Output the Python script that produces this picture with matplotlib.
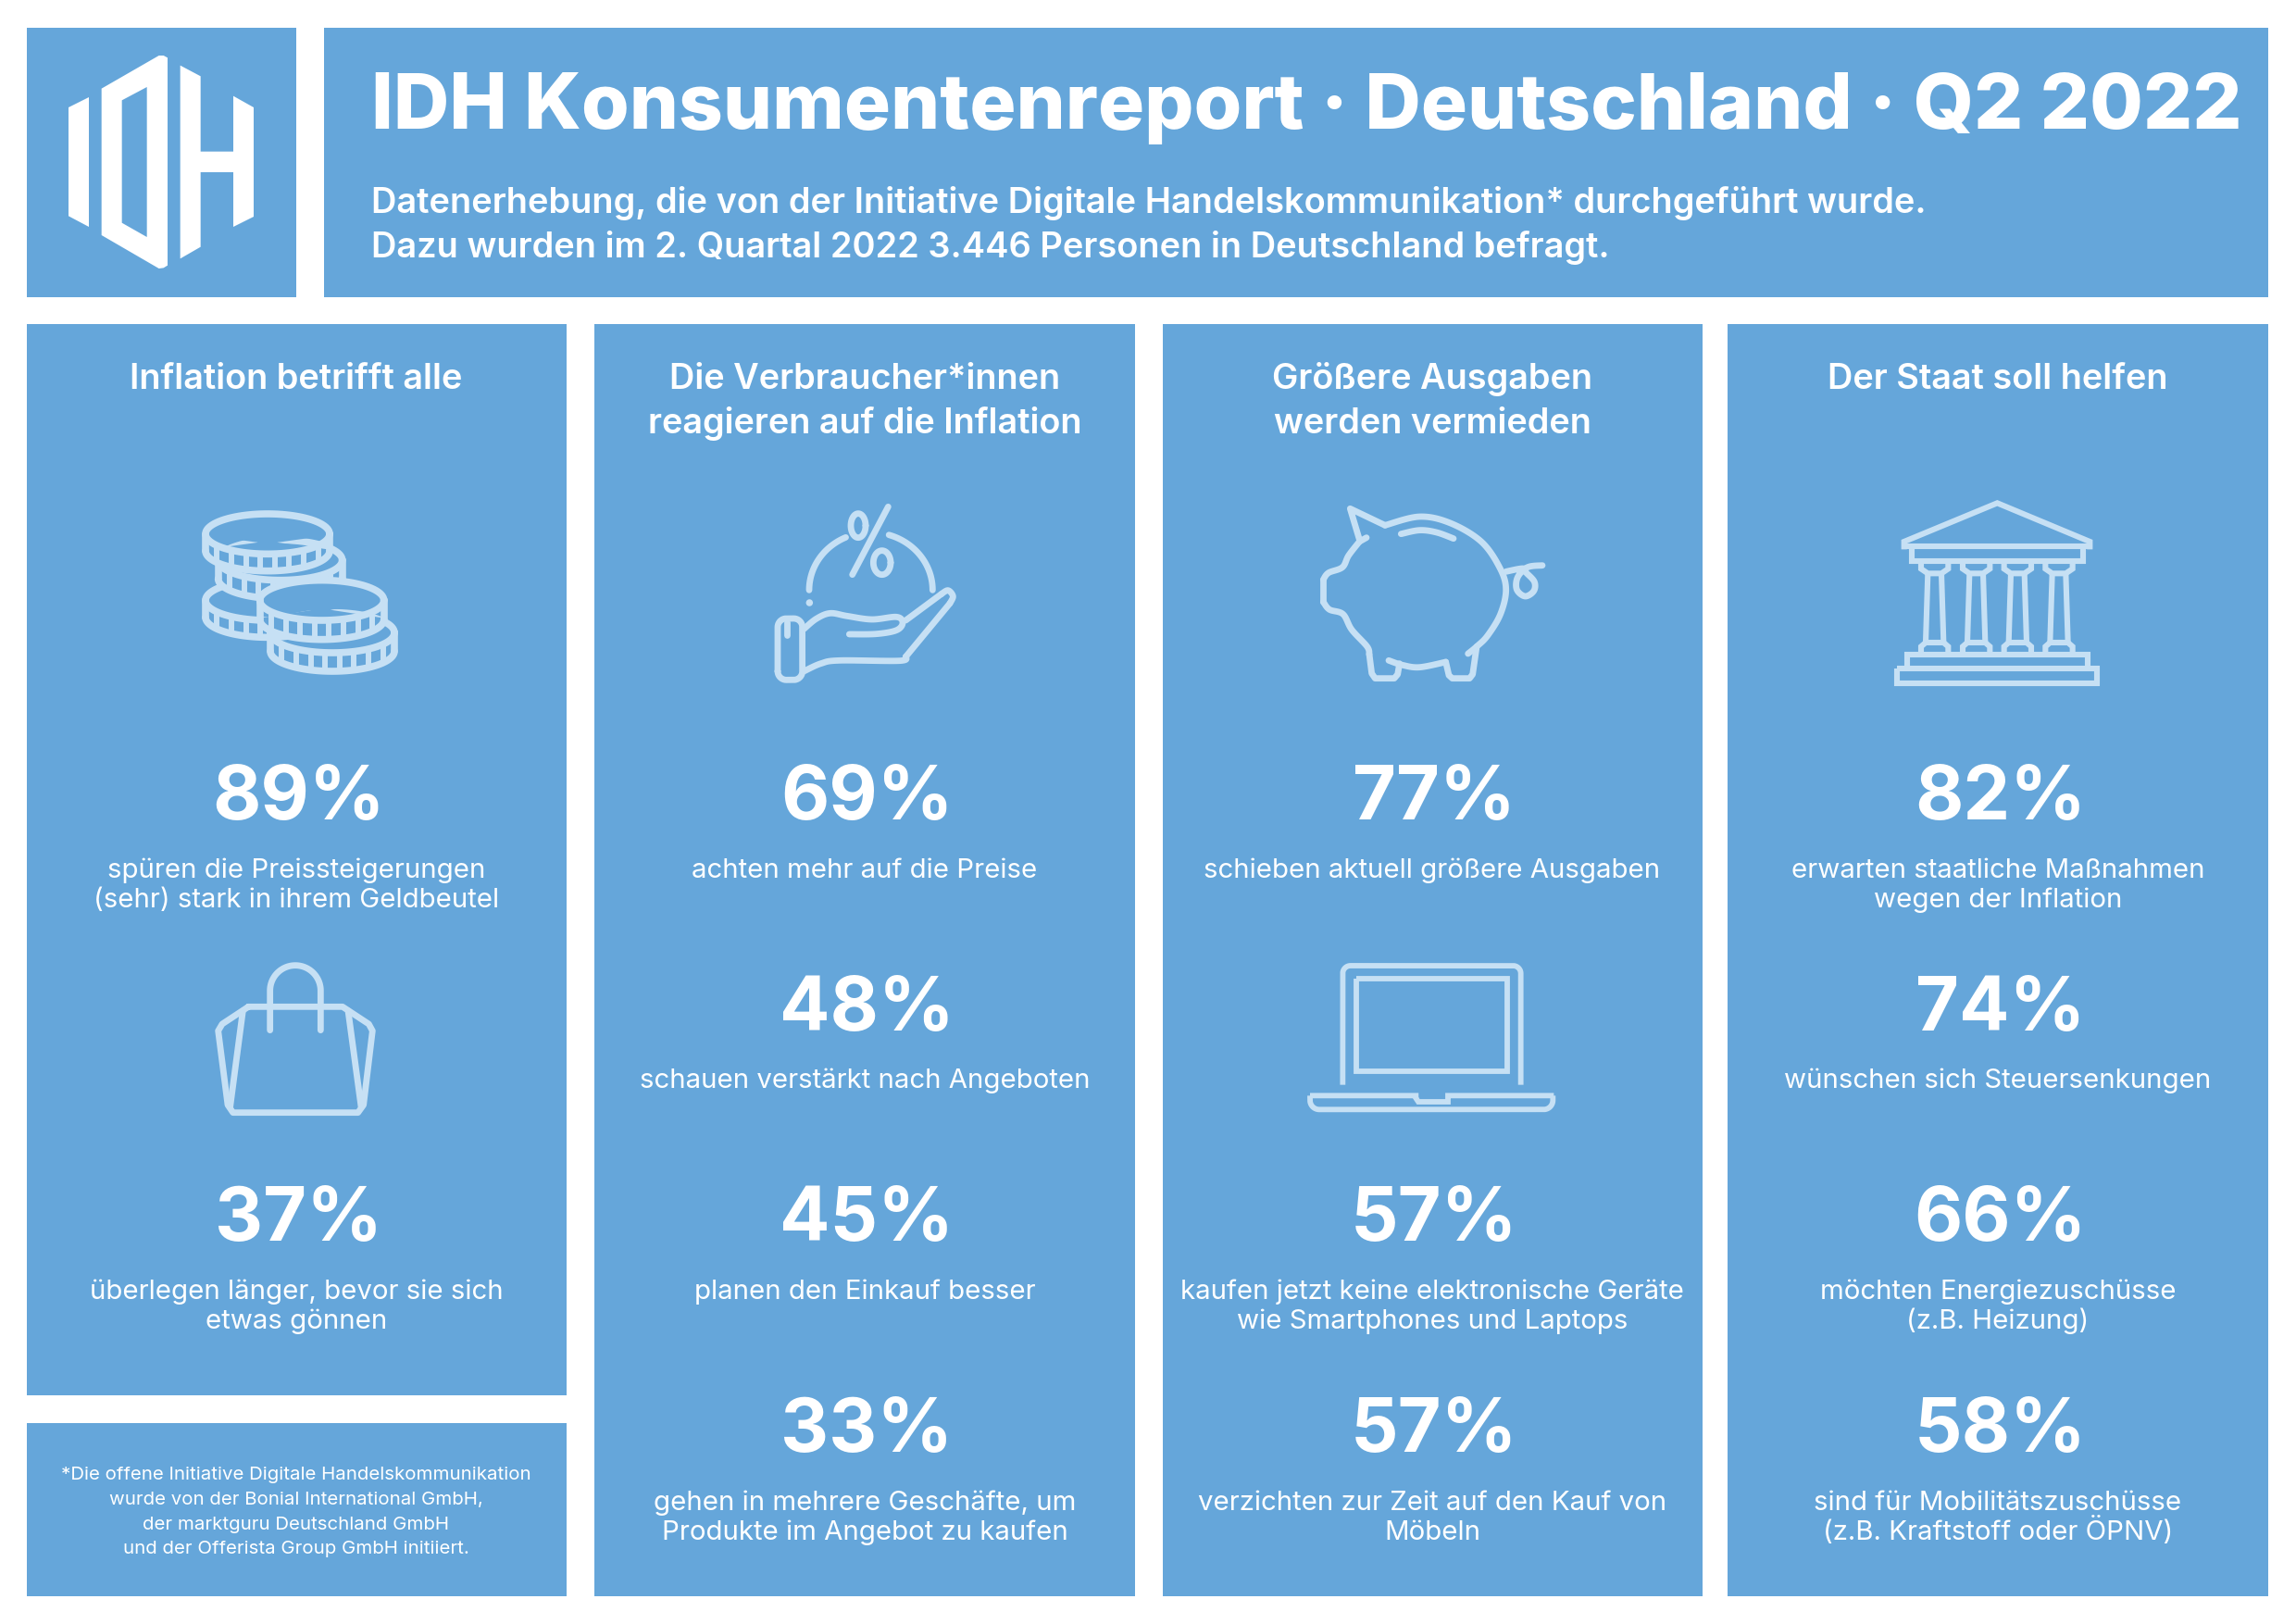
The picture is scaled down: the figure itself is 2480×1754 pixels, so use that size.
import numpy as np
import matplotlib
matplotlib.use('Agg')
import matplotlib.pyplot as plt
from matplotlib.patches import Rectangle, Polygon, Ellipse

plt.rcParams['font.family'] = ['Inter', 'DejaVu Sans']

# colours
BLUE = '#65a6da'
ICON = '#c6e0f4'

# texts
title = 'IDH Konsumentenreport · Deutschland · Q2 2022'
subtitle = ['Datenerhebung, die von der Initiative Digitale Handelskommunikation* durchgeführt wurde.',
            'Dazu wurden im 2. Quartal 2022 3.446 Personen in Deutschland befragt.']
footnote = ['*Die offene Initiative Digitale Handelskommunikation',
            'wurde von der Bonial International GmbH,',
            'der marktguru Deutschland GmbH',
            'und der Offerista Group GmbH initiiert.']

heads = [['Inflation betrifft alle'],
         ['Die Verbraucher*innen', 'reagieren auf die Inflation'],
         ['Größere Ausgaben', 'werden vermieden'],
         ['Der Staat soll helfen']]

col1_values = [89, 37]
col1_labels = [['spüren die Preissteigerungen', '(sehr) stark in ihrem Geldbeutel'],
               ['überlegen länger, bevor sie sich', 'etwas gönnen']]
col2_values = [69, 48, 45, 33]
col2_labels = [['achten mehr auf die Preise'],
               ['schauen verstärkt nach Angeboten'],
               ['planen den Einkauf besser'],
               ['gehen in mehrere Geschäfte, um', 'Produkte im Angebot zu kaufen']]
col3_values = [77, 57, 57]
col3_labels = [['schieben aktuell größere Ausgaben'],
               ['kaufen jetzt keine elektronische Geräte', 'wie Smartphones und Laptops'],
               ['verzichten zur Zeit auf den Kauf von', 'Möbeln']]
col4_values = [82, 74, 66, 58]
col4_labels = [['erwarten staatliche Maßnahmen', 'wegen der Inflation'],
               ['wünschen sich Steuersenkungen'],
               ['möchten Energiezuschüsse', '(z.B. Heizung)'],
               ['sind für Mobilitätszuschüsse', '(z.B. Kraftstoff oder ÖPNV)']]

fig = plt.figure(figsize=(24.8, 17.54), dpi=100, facecolor='white')
ax = fig.add_axes([0, 0, 1, 1])
ax.set_xlim(0, 2480)
ax.set_ylim(1754, 0)
ax.axis('off')


def box(x0, y0, x1, y1):
    ax.add_patch(Rectangle((x0, y0), x1 - x0, y1 - y0, fc=BLUE, ec='none', zorder=1))


def smooth(pts, n=14):
    # catmull-rom through the given points, only for the icon outlines
    p = np.array(pts, dtype=float)
    p = np.vstack([p[0], p, p[-1]])
    out = []
    for i in range(1, len(p) - 2):
        for t in np.linspace(0, 1, n, endpoint=False):
            out.append(0.5 * (2 * p[i] + (p[i + 1] - p[i - 1]) * t
                              + (2 * p[i - 1] - 5 * p[i] + 4 * p[i + 1] - p[i + 2]) * t ** 2
                              + (3 * p[i] - p[i - 1] - 3 * p[i + 1] + p[i + 2]) * t ** 3))
    out.append(p[-2])
    return np.array(out)


def stroke(pts, ox, oy, lw=4.9, z=3, cap='round', join='round'):
    # pts are in 3x crop units, relative to the icon origin
    a = np.asarray(pts, dtype=float) / 3.0 + [ox, oy]
    ax.plot(a[:, 0], a[:, 1], color=ICON, lw=lw, zorder=z, solid_capstyle=cap, solid_joinstyle=join)


def ell(cx, cy, rx, ry, a0=0, a1=360):
    t = np.radians(np.linspace(a0, a1, 90))
    return np.column_stack([cx + rx * np.cos(t), cy + ry * np.sin(t)])


# panels
box(29, 30, 320, 321)
box(350, 30, 2450, 321)
box(29, 350, 612, 1507)
box(29, 1537, 612, 1724)
box(642, 350, 1226, 1724)
box(1256, 350, 1839, 1724)
box(1866, 350, 2450, 1724)

# logo
for poly in ([(222, 348), (288, 315), (288, 735), (222, 700)],
             [(329, 287), (515, 180), (530, 180), (543, 187), (543, 860), (530, 868), (515, 870), (329, 762)],
             [(584, 212), (650, 247), (650, 491), (756, 491), (756, 311), (822, 348), (822, 702),
              (756, 735), (756, 558), (650, 558), (650, 800), (584, 838)]):
    ax.add_patch(Polygon(np.array(poly) / 3.0, fc='white', ec='none', zorder=2))
ax.add_patch(Polygon(np.array([(395, 325), (476, 282), (476, 768), (395, 722)]) / 3.0, fc=BLUE, ec='none', zorder=3))


def coin(cx, cy, drop, ox, oy, z):
    rx, ry = 201, 65
    lw = 5.5
    top = ell(cx, cy, rx, ry)
    front = ell(cx, cy + drop, rx, ry, 180, 0)
    # mask whatever lies behind the coin
    shape = np.vstack([ell(cx, cy, rx, ry, 180, 360), front]) / 3.0 + [ox, oy]
    ax.add_patch(Polygon(shape, fc=BLUE, ec=BLUE, lw=2, zorder=z))
    stroke(top, ox, oy, lw=lw, z=z + 0.1)
    stroke(front, ox, oy, lw=lw, z=z + 0.1)
    stroke([(cx - rx, cy), (cx - rx, cy + drop)], ox, oy, lw=lw, z=z + 0.1)
    stroke([(cx + rx, cy), (cx + rx, cy + drop)], ox, oy, lw=lw, z=z + 0.1)
    for dx in (-164, -117, -70, -23, 23, 70, 117, 164):
        y = ry * np.sqrt(1 - (dx / rx) ** 2)
        stroke([(cx + dx, cy + y), (cx + dx, cy + drop + y)], ox, oy, lw=4.3, z=z + 0.1, cap='butt')


def icon_coins(ox, oy):
    coin(327, 385, 55, ox, oy, 3)
    coin(368, 255, 60, ox, oy, 4)
    coin(327, 170, 55, ox, oy, 5)
    coin(537, 490, 60, ox, oy, 6)
    coin(503, 385, 62, ox, oy, 7)


def icon_hand(ox, oy):
    stroke(ell(422, 352, 200, 187, 180, 246), ox, oy)
    stroke(ell(422, 352, 200, 187, 287, 360), ox, oy)
    ax.add_patch(Ellipse((ox + 223 / 3, oy + 393 / 3), 7.5, 7.5, fc=ICON, ec='none', zorder=3))
    stroke([(478, 82), (362, 302)], ox, oy)
    stroke(ell(381, 143, 24, 39), ox, oy)
    stroke(ell(458, 263, 28, 39), ox, oy)
    stroke(np.vstack([[(120, 615)], ell(148, 615, 28, 28, 180, 90)[::1], ell(172, 615, 28, 28, 90, 0),
                      ell(172, 472, 28, 28, 0, -90), ell(148, 472, 28, 28, 270, 180), [(120, 615)]]), ox, oy)
    stroke([(149, 455), (149, 497)], ox, oy)
    stroke(smooth([(205, 478), (245, 445), (290, 427), (345, 436), (425, 447), (505, 439), (525, 458),
                   (505, 482), (440, 494), (352, 495)]), ox, oy)
    stroke([(535, 450), (650, 365)], ox, oy)
    stroke(smooth([(650, 365), (672, 353), (688, 372), (678, 395)]), ox, oy)
    stroke([(678, 395), (535, 568)], ox, oy)
    stroke(smooth([(535, 568), (515, 581), (320, 580), (260, 590), (205, 615)]), ox, oy)


def icon_pig(ox, oy):
    stroke([(205, 188), (175, 88), (288, 142)], ox, oy)
    stroke(smooth([(288, 142), (400, 114), (500, 135), (600, 195), (660, 280), (680, 350),
                   (662, 430), (620, 500), (585, 535), (557, 558)]), ox, oy)
    stroke([(228, 182), (205, 195)], ox, oy)
    stroke(smooth([(205, 195), (170, 240), (150, 278), (105, 296), (88, 318)]), ox, oy)
    stroke([(88, 318), (88, 390)], ox, oy)
    stroke(smooth([(88, 390), (108, 415), (152, 430), (180, 480), (230, 535), (237, 560)]), ox, oy)
    stroke([(237, 560), (245, 622), (256, 638), (318, 638), (329, 625), (335, 590)], ox, oy)
    stroke(smooth([(300, 580), (345, 595), (400, 602), (485, 585)]), ox, oy)
    stroke([(485, 585), (495, 628), (506, 638), (562, 638), (572, 625), (585, 535)], ox, oy)
    stroke(smooth([(340, 170), (400, 158), (455, 165), (510, 185)]), ox, oy)
    stroke(smooth([(680, 292), (735, 282), (745, 295), (772, 325), (770, 355), (742, 372),
                   (715, 350), (718, 310), (750, 278), (798, 272)]), ox, oy)


def icon_bank(ox, oy):
    lw = 4.4
    stroke([(102, 210), (720, 210)], ox, oy, lw=lw, cap='butt')
    stroke([(110, 220), (110, 195), (412, 70), (712, 195), (712, 220)], ox, oy, lw=lw, cap='butt', join='miter')
    stroke([(134, 210), (134, 258), (690, 258), (690, 210)], ox, oy, lw=lw, cap='butt', join='miter')
    for c in (209, 344, 478, 612):
        stroke([(c - 44, 262), (c - 44, 283), (c - 22, 298), (c + 22, 298), (c + 44, 283), (c + 44, 262)],
               ox, oy, lw=lw, cap='butt', join='miter')
        stroke([(c - 22, 298), (c - 29, 522)], ox, oy, lw=lw, cap='butt')
        stroke([(c + 22, 298), (c + 29, 522)], ox, oy, lw=lw, cap='butt')
        stroke([(c - 44, 556), (c - 44, 535), (c - 29, 522), (c + 29, 522), (c + 44, 535), (c + 44, 556)],
               ox, oy, lw=lw, cap='butt', join='miter')
    stroke([(120, 606), (120, 560), (705, 560), (705, 606)], ox, oy, lw=lw, cap='butt', join='miter')
    stroke([(88, 606), (735, 606), (735, 655), (88, 655), (88, 606)], ox, oy, lw=lw, cap='butt', join='miter')


def icon_bag(ox, oy):
    stroke(np.vstack([[(275, 278)], ell(357, 150, 82, 82, 180, 360), [(439, 278)]]), ox, oy)
    stroke([(205, 202), (510, 202), (595, 258), (607, 280), (578, 520), (560, 545), (155, 545), (138, 520),
            (107, 280), (120, 258), (205, 202)], ox, oy)
    stroke([(187, 215), (146, 525)], ox, oy)
    stroke([(528, 215), (570, 525)], ox, oy)


def icon_laptop(ox, oy):
    lw = 4.2
    stroke(np.vstack([[(181, 455)], ell(206, 94, 25, 25, 180, 270), ell(733, 94, 25, 25, 270, 360), [(758, 455)]]),
           ox, oy, lw=lw, cap='butt')
    stroke([(224, 112), (715, 112), (715, 411), (224, 411), (224, 112)], ox, oy, lw=lw, cap='butt', join='miter')
    stroke([(75, 490), (418, 490), (418, 498), (426, 510), (522, 510), (522, 498), (522, 490), (865, 490)],
           ox, oy, lw=lw, cap='butt', join='miter')
    stroke(np.vstack([[(75, 490)], ell(105, 505, 30, 30, 180, 90), ell(832, 505, 30, 30, 90, 0), [(862, 490)]]),
           ox, oy, lw=lw, cap='butt')


icon_coins(180, 520)
icon_hand(800, 520)
icon_pig(1400, 520)
icon_bank(2020, 520)
icon_bag(200, 1020)
icon_laptop(1390, 1020)

# header text
ax.text(401, 139, title, color='white', fontsize=60.2, fontweight=800, ha='left', va='baseline', zorder=5)
for line, y in zip(subtitle, (230, 278)):
    ax.text(401, y, line, color='white', fontsize=27.35, fontweight='semibold', ha='left', va='baseline', zorder=5)

# columns
centers = [320, 934, 1547, 2158]
rows_by_col = [[0, 2], [0, 1, 2, 3], [0, 2, 3], [0, 1, 2, 3]]
values = [col1_values, col2_values, col3_values, col4_values]
labels = [col1_labels, col2_labels, col3_labels, col4_labels]

for c, head, rows, vals, labs in zip(centers, heads, rows_by_col, values, labels):
    for i, line in enumerate(head):
        ax.text(c, 420.5 + i * 48, line, color='white', fontsize=27.3, fontweight='semibold',
                ha='center', va='baseline', zorder=5)
    for r, v, lab in zip(rows, vals, labs):
        ax.text(c + 2.5, 885 + r * 227.7, f'{v}%', color='white', fontsize=58, fontweight='bold',
                ha='center', va='baseline', zorder=5)
        for j, line in enumerate(lab):
            ax.text(c, 947.5 + r * 227.7 + j * 32, line, color='white', fontsize=21.2, fontweight='normal',
                    ha='center', va='baseline', zorder=5)

# footnote
for i, line in enumerate(footnote):
    ax.text(320, 1598.5 + i * 26.6, line, color='white', fontsize=14.7, ha='center', va='baseline', zorder=5)

fig.savefig('out.png', dpi=100, facecolor='white')
